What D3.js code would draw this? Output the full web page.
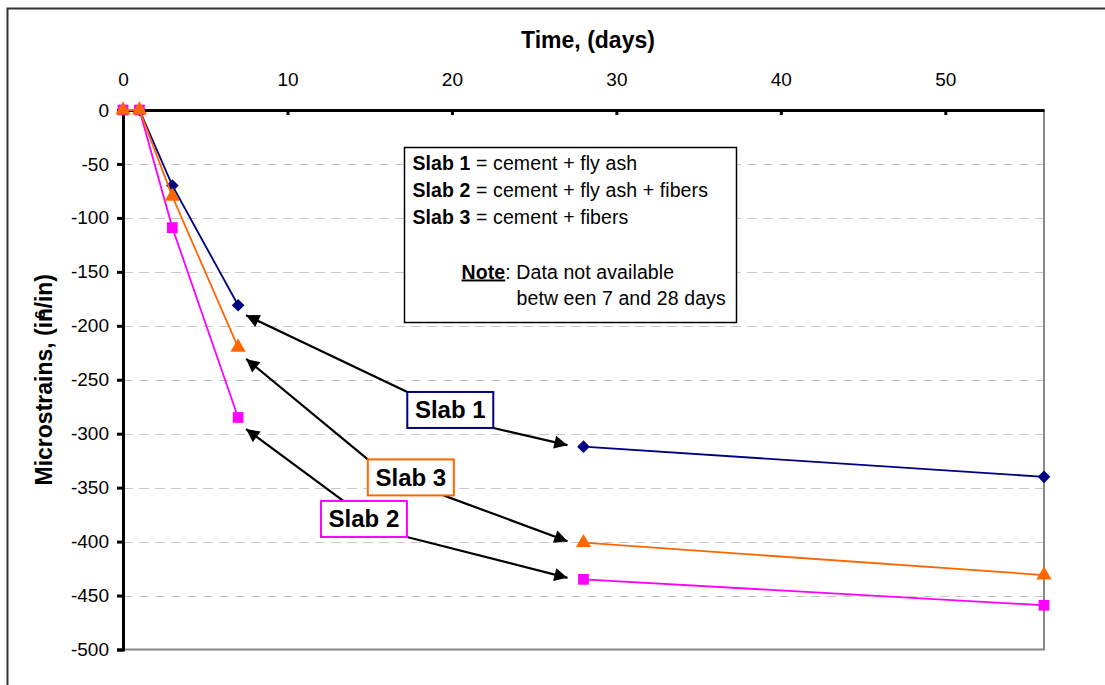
<!DOCTYPE html>
<html>
<head>
<meta charset="utf-8">
<script src="https://cdn.jsdelivr.net/npm/d3@7"></script>
<style>
  html, body { margin: 0; padding: 0; background: #fff; }
  svg { display: block; font-family: Arial, "Liberation Sans", sans-serif; }
</style>
</head>
<body>
<svg id="chart" width="1105" height="685"></svg>
<script>
// Measurement days and strain readings (microstrains) for each slab
const days = [0, 1, 3, 7, 28, 56];
const slab1 = [0, 0, -70, -181, -312, -340];
const slab2 = [0, 0, -109, -285, -435, -459];
const slab3 = [0, 0, -80, -220, -401, -431];
// No readings were taken between these two days, so the lines break there
const gapFrom = 7, gapTo = 28;

const xTicks = [0, 10, 20, 30, 40, 50];
const yTicks = [0, -50, -100, -150, -200, -250, -300, -350, -400, -450, -500];

const seriesNames = ["Slab 1", "Slab 2", "Slab 3"];
const seriesValues = [slab1, slab2, slab3];
const seriesColors = ["#000080", "#FF00FF", "#FF6600"];
const seriesMarkers = ["diamond", "square", "triangle"];

// Callout labels: box centre in data units, arrows pointing at the day-7 and day-28 readings
const calloutNames = ["Slab 1", "Slab 3", "Slab 2"];
const calloutDays = [19.9, 17.5, 14.65];
const calloutValues = [-278, -340.5, -379];

const legendLines = [
  ["Slab 1", " = cement + fly ash"],
  ["Slab 2", " = cement + fly ash + fibers"],
  ["Slab 3", " = cement + fibers"]
];

const svg = d3.select("#chart");
const W = 1105, H = 685;

// Outer chart frame
svg.append("rect")
  .attr("x", 7.5).attr("y", 8.5)
  .attr("width", W + 10).attr("height", H + 10)
  .attr("fill", "#fff").attr("stroke", "#333").attr("stroke-width", 2);

const plot = { left: 123, right: 1044, top: 110, bottom: 649.5 };

const x = d3.scaleLinear().domain([0, 56]).range([plot.left, plot.right]);
const y = d3.scaleLinear().domain([0, -500]).range([plot.top, plot.bottom]);

// Horizontal dashed gridlines
svg.append("g")
  .selectAll("line")
  .data(yTicks.filter(v => v !== 0 && v !== -500))
  .join("line")
  .attr("x1", plot.left).attr("x2", plot.right)
  .attr("y1", d => Math.round(y(d)) + 0.5).attr("y2", d => Math.round(y(d)) + 0.5)
  .attr("stroke", "#c8c8c8").attr("stroke-width", 1)
  .attr("stroke-dasharray", "10,6");

// Plot-area border on the right and bottom
svg.append("path")
  .attr("d", `M${plot.right},${plot.top} V${plot.bottom} H${plot.left}`)
  .attr("fill", "none").attr("stroke", "#888").attr("stroke-width", 2);

// Y axis (left)
const yAxis = d3.axisLeft(y).tickValues(yTicks).tickSize(6).tickPadding(8)
  .tickFormat(d3.format("d"));
const gy = svg.append("g").attr("transform", `translate(${plot.left},0)`).call(yAxis);
gy.select(".domain").attr("stroke", "#000").attr("stroke-width", 3);
gy.selectAll(".tick line").attr("stroke", "#000").attr("stroke-width", 3);
gy.selectAll(".tick text")
  .attr("font-size", 19).attr("fill", "#000")
  .attr("font-family", "Arial, 'Liberation Sans', sans-serif")
  .text(d => d3.format("d")(d).replace("−", "-"));

// X axis drawn along the zero line at the top, tick labels above
const xAxis = d3.axisTop(x).tickValues(xTicks).tickSize(0).tickPadding(24)
  .tickFormat(d3.format("d"));
const gx = svg.append("g").attr("transform", `translate(0,${plot.top})`).call(xAxis);
gx.select(".domain").attr("stroke", "#000").attr("stroke-width", 3);
gx.selectAll(".tick text")
  .attr("font-size", 19).attr("fill", "#000")
  .attr("font-family", "Arial, 'Liberation Sans', sans-serif");
gx.selectAll(".tick").append("line")
  .attr("y1", 0).attr("y2", 5)
  .attr("stroke", "#000").attr("stroke-width", 3);

// Axis titles
svg.append("text")
  .attr("x", 588).attr("y", 48)
  .attr("text-anchor", "middle")
  .attr("font-size", 23).attr("font-weight", "bold")
  .text("Time, (days)");

const yTitle = svg.append("text")
  .attr("transform", `translate(52,${(plot.top + plot.bottom) / 2}) rotate(-90)`)
  .attr("text-anchor", "middle")
  .attr("font-size", 23).attr("font-weight", "bold");
yTitle.append("tspan").text("Microstrains, (in");
yTitle.append("tspan").attr("font-size", 15).attr("dx", -11).attr("dy", -7).text("6");
yTitle.append("tspan").attr("dx", 2).attr("dy", 7).text("/in)");

// Series lines (broken across the missing interval) and markers
const line = d3.line()
  .defined(d => d !== null)
  .x(d => x(d.day)).y(d => y(d.value));

function withGap(vals) {
  const pts = [];
  vals.forEach((v, i) => {
    pts.push({ day: days[i], value: v });
    if (days[i] === gapFrom && days[i + 1] === gapTo) pts.push(null);
  });
  return pts;
}

function markerPath(kind) {
  if (kind === "diamond") return d3.symbol().type(d3.symbolSquare).size(80)();
  if (kind === "square") return d3.symbol().type(d3.symbolSquare).size(115)();
  return d3.symbol().type(d3.symbolTriangle).size(100)();
}

seriesValues.forEach((vals, s) => {
  const g = svg.append("g").attr("class", "series");
  g.append("path")
    .attr("d", line(withGap(vals)))
    .attr("fill", "none")
    .attr("stroke", seriesColors[s])
    .attr("stroke-width", 1.8);
  const kind = seriesMarkers[s];
  g.selectAll("path.marker")
    .data(vals)
    .join("path")
    .attr("class", "marker")
    .attr("transform", (d, i) => `translate(${x(days[i])},${y(d)})` + (kind === "diamond" ? " rotate(45)" : ""))
    .attr("d", markerPath(kind))
    .attr("fill", seriesColors[s]);
});

// Legend / note box
const lg = svg.append("g").attr("transform", "translate(404.5,147.5)");
lg.append("rect")
  .attr("width", 332).attr("height", 175)
  .attr("fill", "#fff").attr("stroke", "#000").attr("stroke-width", 1.5);
legendLines.forEach((ln, i) => {
  const t = lg.append("text")
    .attr("x", 8).attr("y", 22 + i * 27)
    .attr("font-size", 19.5).attr("letter-spacing", 0.1);
  t.append("tspan").attr("font-weight", "bold").text(ln[0]);
  t.append("tspan").text(ln[1]);
});
const note = lg.append("text").attr("x", 57).attr("y", 131)
  .attr("font-size", 19.5).attr("letter-spacing", 0.1);
note.append("tspan").attr("font-weight", "bold").attr("text-decoration", "underline").text("Note");
note.append("tspan").text(": Data not available");
lg.append("text").attr("x", 112).attr("y", 157)
  .attr("font-size", 19.5).attr("letter-spacing", 0.1)
  .text("betw een 7 and 28 days");

// Arrowhead marker
svg.append("defs").append("marker")
  .attr("id", "arrow")
  .attr("viewBox", "0 0 10 10")
  .attr("refX", 10).attr("refY", 5)
  .attr("markerWidth", 7).attr("markerHeight", 6)
  .attr("markerUnits", "strokeWidth")
  .attr("orient", "auto")
  .append("path").attr("d", "M0,0 L10,5 L0,10 Z").attr("fill", "#000");

// Callout boxes with arrows to the day-7 and day-28 readings of each slab
const boxW = 86, boxH = 36;
const arrowStarts = {
  "Slab 1": [[0, 0], [1, 1]],
  "Slab 3": [[0, 0], [0.88, 1]],
  "Slab 2": [[0.26, 0], [1, 1]]
};
const tipOffsets = [[8, 10], [-16, -1.5]];
const targetDays = [7, 28];

calloutNames.forEach((name, c) => {
  const s = seriesNames.indexOf(name);
  const cx = x(calloutDays[c]), cy = y(calloutValues[c]);
  const bx = cx - boxW / 2, by = cy - boxH / 2;
  targetDays.forEach((td, k) => {
    const idx = days.indexOf(td);
    const px = x(td) + tipOffsets[k][0];
    const py = y(seriesValues[s][idx]) + tipOffsets[k][1] + (k === 0 ? (s === 0 ? 0 : 1.5) : 0);
    const st = arrowStarts[name][k];
    svg.append("line")
      .attr("x1", bx + st[0] * boxW).attr("y1", by + st[1] * boxH)
      .attr("x2", px).attr("y2", py)
      .attr("stroke", "#000").attr("stroke-width", 2.2)
      .attr("marker-end", "url(#arrow)");
  });
  svg.append("rect")
    .attr("x", bx).attr("y", by).attr("width", boxW).attr("height", boxH)
    .attr("fill", "#fff").attr("stroke", seriesColors[s]).attr("stroke-width", 2);
  svg.append("text")
    .attr("x", cx).attr("y", cy + 8.5)
    .attr("text-anchor", "middle")
    .attr("font-size", 24).attr("font-weight", "bold")
    .text(name);
});
</script>
</body>
</html>
